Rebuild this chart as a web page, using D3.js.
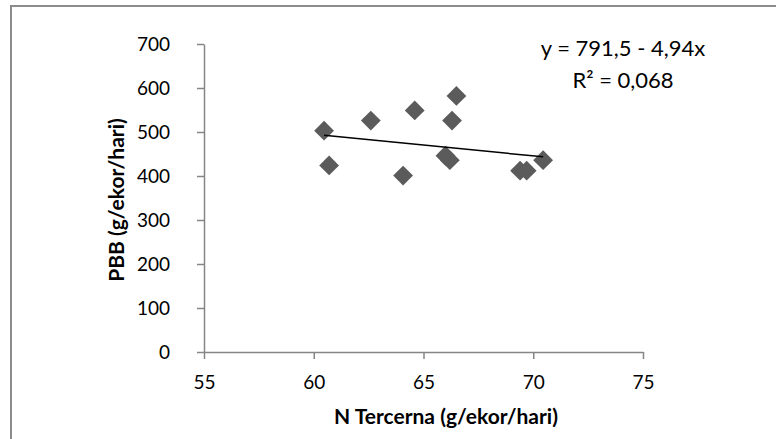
<!DOCTYPE html>
<html>
<head>
<meta charset="utf-8">
<script src="https://cdn.jsdelivr.net/npm/d3@7"></script>
<style>
  body { margin: 0; background: #fff; }
  text { font-family: Lato, "Open Sans", sans-serif; fill: #000; }
</style>
</head>
<body>
<div id="chart"></div>
<script>
// data
var nTercerna = [60.47, 60.7, 62.6, 64.07, 64.6, 66.5, 66.3, 66.0, 66.2, 69.4, 69.7, 70.45];
var pbb       = [503, 424, 526, 401, 549, 582, 526, 446, 436, 412, 412, 436];
var xTicks = [55, 60, 65, 70, 75];
var yTicks = [0, 100, 200, 300, 400, 500, 600, 700];
var trendA = 791.5, trendB = -4.94;
var eqLines = ["y = 791,5 - 4,94x", "R² = 0,068"];

var W = 776, H = 439;
var margin = {top: 44, right: 133, bottom: 87, left: 204},
    width = W - margin.left - margin.right,
    height = H - margin.top - margin.bottom;

var svg = d3.select("#chart").append("svg")
    .attr("width", W)
    .attr("height", H);

// outer chart border
svg.append("rect")
  .attr("x", 11).attr("y", 6)
  .attr("width", W).attr("height", H)
  .attr("fill", "none")
  .attr("stroke", "#8c8c8c")
  .attr("stroke-width", 2);

var g = svg.append("g")
  .attr("transform", "translate(" + margin.left + "," + margin.top + ")");

var x = d3.scaleLinear().domain([55, 75]).range([0, width]);
var y = d3.scaleLinear().domain([0, 700]).range([height, 0]);

// X axis
var xAxis = g.append("g")
  .attr("transform", "translate(0," + height + ")")
  .call(d3.axisBottom(x).tickValues(xTicks).tickSize(7).tickSizeOuter(0));
xAxis.selectAll("text").attr("dy", "1.4em").style("font-size", "19px");

// Y axis
var yAxis = g.append("g")
  .call(d3.axisLeft(y).tickValues(yTicks).tickSize(7).tickSizeOuter(0));
yAxis.selectAll("text").attr("x", -34).style("font-size", "19px");

g.selectAll(".domain, .tick line")
  .attr("stroke", "#868686")
  .attr("stroke-width", 1.5);

// points
var pts = nTercerna.map(function (d, i) { return {x: d, y: pbb[i]}; });
g.selectAll("path.pt")
  .data(pts)
  .enter()
  .append("path")
    .attr("class", "pt")
    .attr("d", d3.symbol().type(d3.symbolDiamond2).size(250))
    .attr("transform", function (d) {
      return "translate(" + x(d.x) + "," + y(d.y) + ")";
    })
    .attr("fill", "#5b5b5b");

// linear trend line
var x0 = d3.min(nTercerna), x1 = d3.max(nTercerna);
g.append("line")
  .attr("x1", x(x0)).attr("y1", y(trendA + trendB * x0))
  .attr("x2", x(x1)).attr("y2", y(trendA + trendB * x1))
  .attr("stroke", "#000")
  .attr("stroke-width", 1.5);

// equation
svg.selectAll("text.eq")
  .data(eqLines)
  .enter()
  .append("text")
    .attr("class", "eq")
    .attr("x", 623)
    .attr("y", function (d, i) { return 56 + i * 32; })
    .attr("text-anchor", "middle")
    .style("font-size", "22px")
    .text(function (d) { return d; });

// axis titles
svg.append("text")
  .attr("x", 446)
  .attr("y", 424)
  .attr("text-anchor", "middle")
  .style("font-size", "21px")
  .style("font-weight", "bold")
  .text("N Tercerna (g/ekor/hari)");

svg.append("text")
  .attr("transform", "translate(124,200) rotate(-90)")
  .attr("text-anchor", "middle")
  .style("font-size", "21px")
  .style("font-weight", "bold")
  .text("PBB (g/ekor/hari)");
</script>
</body>
</html>
